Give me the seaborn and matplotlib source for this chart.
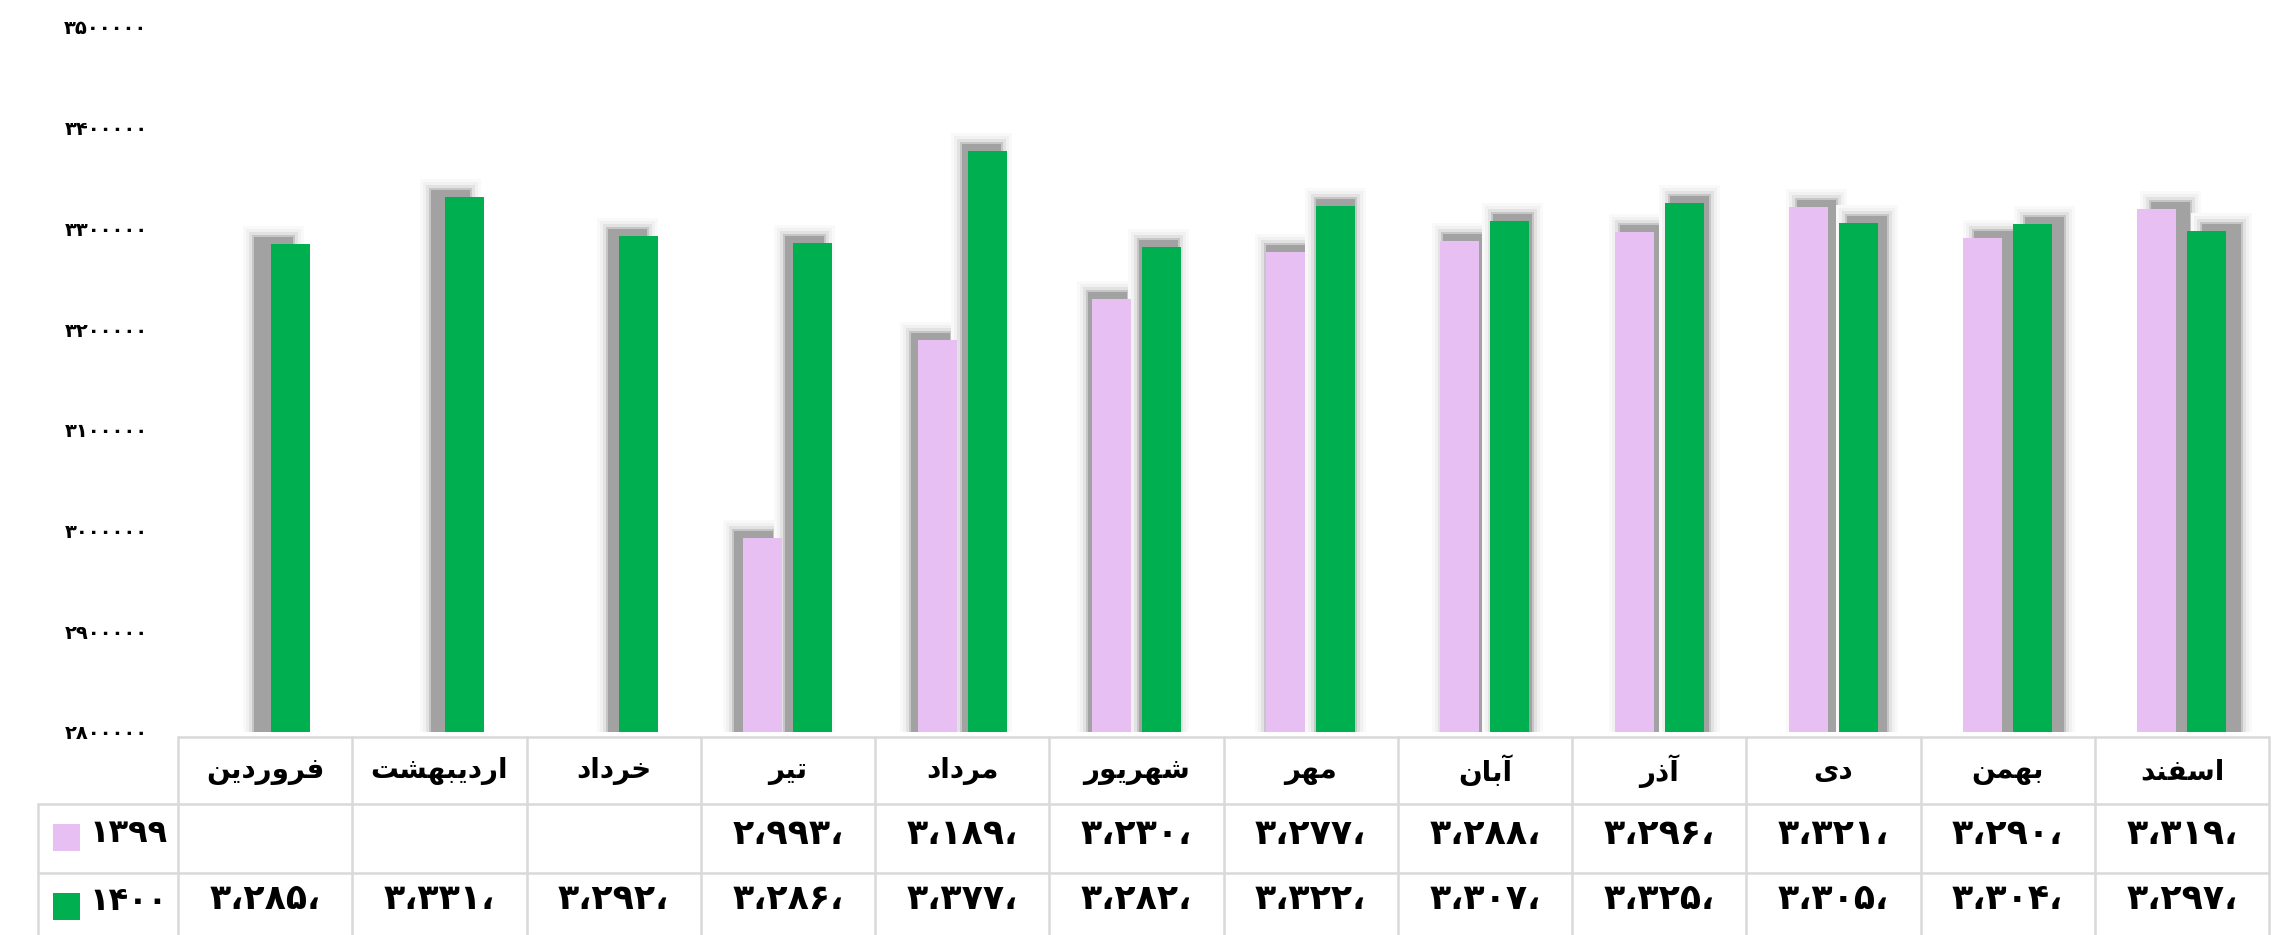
import numpy as np
import pandas as pd
import seaborn as sns
import matplotlib as mpl
import matplotlib.pyplot as plt
from matplotlib.patches import Rectangle
from matplotlib.ticker import FuncFormatter

# data
months = ['فروردین', 'اردیبهشت', 'خرداد', 'تیر', 'مرداد', 'شهریور',
          'مهر', 'آبان', 'آذر', 'دی', 'بهمن', 'اسفند']
years = ['۱۳۹۹', '۱۴۰۰']
v1399 = [np.nan, np.nan, np.nan, 2993000, 3189000, 3230000,
         3277000, 3288000, 3296000, 3321000, 3290000, 3319000]
v1400 = [3285000, 3331000, 3292000, 3286000, 3377000, 3282000,
         3322000, 3307000, 3325000, 3305000, 3304000, 3297000]
y_ticks = list(range(2800000, 3500001, 100000))
colors = ['#E8BFF3', '#00AF50']

# matplotlib has no arabic shaping, so do it by hand for the letters used
FORMS = {  # isolated, final, initial, medial
    'ا': ('\uFE8D', '\uFE8E', None, None),
    'آ': ('\uFE81', '\uFE82', None, None),
    'د': ('\uFEA9', '\uFEAA', None, None),
    'ذ': ('\uFEAB', '\uFEAC', None, None),
    'ر': ('\uFEAD', '\uFEAE', None, None),
    'ز': ('\uFEAF', '\uFEB0', None, None),
    'و': ('\uFEED', '\uFEEE', None, None),
    'ب': ('\uFE8F', '\uFE90', '\uFE91', '\uFE92'),
    'ت': ('\uFE95', '\uFE96', '\uFE97', '\uFE98'),
    'خ': ('\uFEA5', '\uFEA6', '\uFEA7', '\uFEA8'),
    'س': ('\uFEB1', '\uFEB2', '\uFEB3', '\uFEB4'),
    'ش': ('\uFEB5', '\uFEB6', '\uFEB7', '\uFEB8'),
    'ف': ('\uFED1', '\uFED2', '\uFED3', '\uFED4'),
    'م': ('\uFEE1', '\uFEE2', '\uFEE3', '\uFEE4'),
    'ن': ('\uFEE5', '\uFEE6', '\uFEE7', '\uFEE8'),
    'ه': ('\uFEE9', '\uFEEA', '\uFEEB', '\uFEEC'),
    'ی': ('\uFBFC', '\uFBFD', '\uFBFE', '\uFBFF'),
}


def shape(s):
    out = []
    for i, ch in enumerate(s):
        f = FORMS.get(ch)
        if f is None:
            out.append(ch)
            continue
        prev = s[i - 1] if i > 0 else None
        nxt = s[i + 1] if i + 1 < len(s) else None
        jp = prev in FORMS and FORMS[prev][2] is not None
        jn = f[2] is not None and nxt in FORMS
        idx = 3 if (jp and jn) else 1 if jp else 2 if jn else 0
        out.append(f[idx])
    return ''.join(reversed(out))


FA = str.maketrans('0123456789', '۰۱۲۳۴۵۶۷۸۹')


def fa(n):
    return str(n).translate(FA)


def cell(v):
    if np.isnan(v):
        return ''
    return (f'{int(v) // 1000:,}'.replace(',', '،') + '،').translate(FA)


sns.set_theme(style='white')
plt.rcParams['font.family'] = ['DejaVu Sans']
plt.rcParams['font.weight'] = 'bold'
plt.rcParams['text.color'] = 'black'
plt.rcParams['ytick.color'] = 'black'

df = pd.DataFrame({'month': months * 2,
                   'year': [years[0]] * 12 + [years[1]] * 12,
                   'value': v1399 + v1400})

W, H = 2291, 935
fig = plt.figure(figsize=(W / 100, H / 100), dpi=100)
ax = fig.add_axes([178 / W, 1 - 732 / H, 2091 / W, 705 / H])

px_x = 2091 / 12
px_y = 705 / 700000
bar_w = 0.224
slot = 0.286

# perspective drop shadows behind the bars
for j, vals in enumerate([v1399, v1400]):
    off = (j - 0.5) * slot
    for i, v in enumerate(vals):
        if np.isnan(v):
            continue
        xc = i + off
        xpix = 178 + (xc + 0.5) * px_x
        sx = 0.0164 * (xpix - 1327) / px_x
        for grow, col in [(11, '#f9f9f9'), (8, '#f1f1f1'), (5, '#e2e2e2'),
                          (2, '#c6c6c6'), (0, '#a2a2a2')]:
            ax.bar(xc + sx, v + (7 + grow) / px_y, width=bar_w + 2 * grow / px_x,
                   color=col, linewidth=0, zorder=1)

sns.barplot(data=df, x='month', y='value', hue='year', order=months,
            hue_order=years, palette=colors, width=2 * slot,
            gap=1 - bar_w / slot, legend=False, zorder=3, ax=ax,
            linewidth=0, errorbar=None, saturation=1)

ax.set_xlim(-0.5, 11.5)
ax.set_ylim(2800000, 3500000)
ax.set_yticks(y_ticks)
ax.yaxis.set_major_formatter(FuncFormatter(lambda v, p: fa(int(v))))
ax.tick_params(axis='y', length=0, pad=22, labelsize=14)
ax.set_xticks([])
ax.set(xlabel='', ylabel='')
sns.despine(ax=ax, left=True, bottom=True)

# data table under the chart
tab = fig.add_axes([38 / W, 0, (2269 - 38) / W, 198 / H])
x0 = -0.5 - 140 / px_x
tab.set_xlim(x0, 11.5)
tab.set_ylim(198, 0)
tab.axis('off')
gc = '#d9d9d9'
lw = 1.8
tab.plot([-0.5, 11.5], [0, 0], color=gc, lw=lw, clip_on=False)
for yy in [67, 136]:
    tab.plot([x0, 11.5], [yy, yy], color=gc, lw=lw, clip_on=False)
tab.plot([x0, x0], [67, 198], color=gc, lw=lw, clip_on=False)
for k in range(13):
    tab.plot([k - 0.5, k - 0.5], [0, 198], color=gc, lw=lw, clip_on=False)

for i, m in enumerate(months):
    tab.text(i, 34, shape(m), ha='center', va='center', fontsize=20,
             fontweight='bold')
    tab.text(i, 97, cell(v1399[i]), ha='center', va='center', fontsize=25,
             fontweight='bold')
    tab.text(i, 162, cell(v1400[i]), ha='center', va='center', fontsize=25,
             fontweight='bold')

for j, (yr, ys) in enumerate(zip(years, [87, 156])):
    tab.add_patch(Rectangle((x0 + 15 / px_x, ys), 27 / px_x, 27,
                            color=colors[j], linewidth=0))
    tab.text(x0 + 130 / px_x, ys + 9, yr, ha='right', va='center',
             fontsize=23, fontweight='bold')

fig.savefig('out.png', dpi=100)
